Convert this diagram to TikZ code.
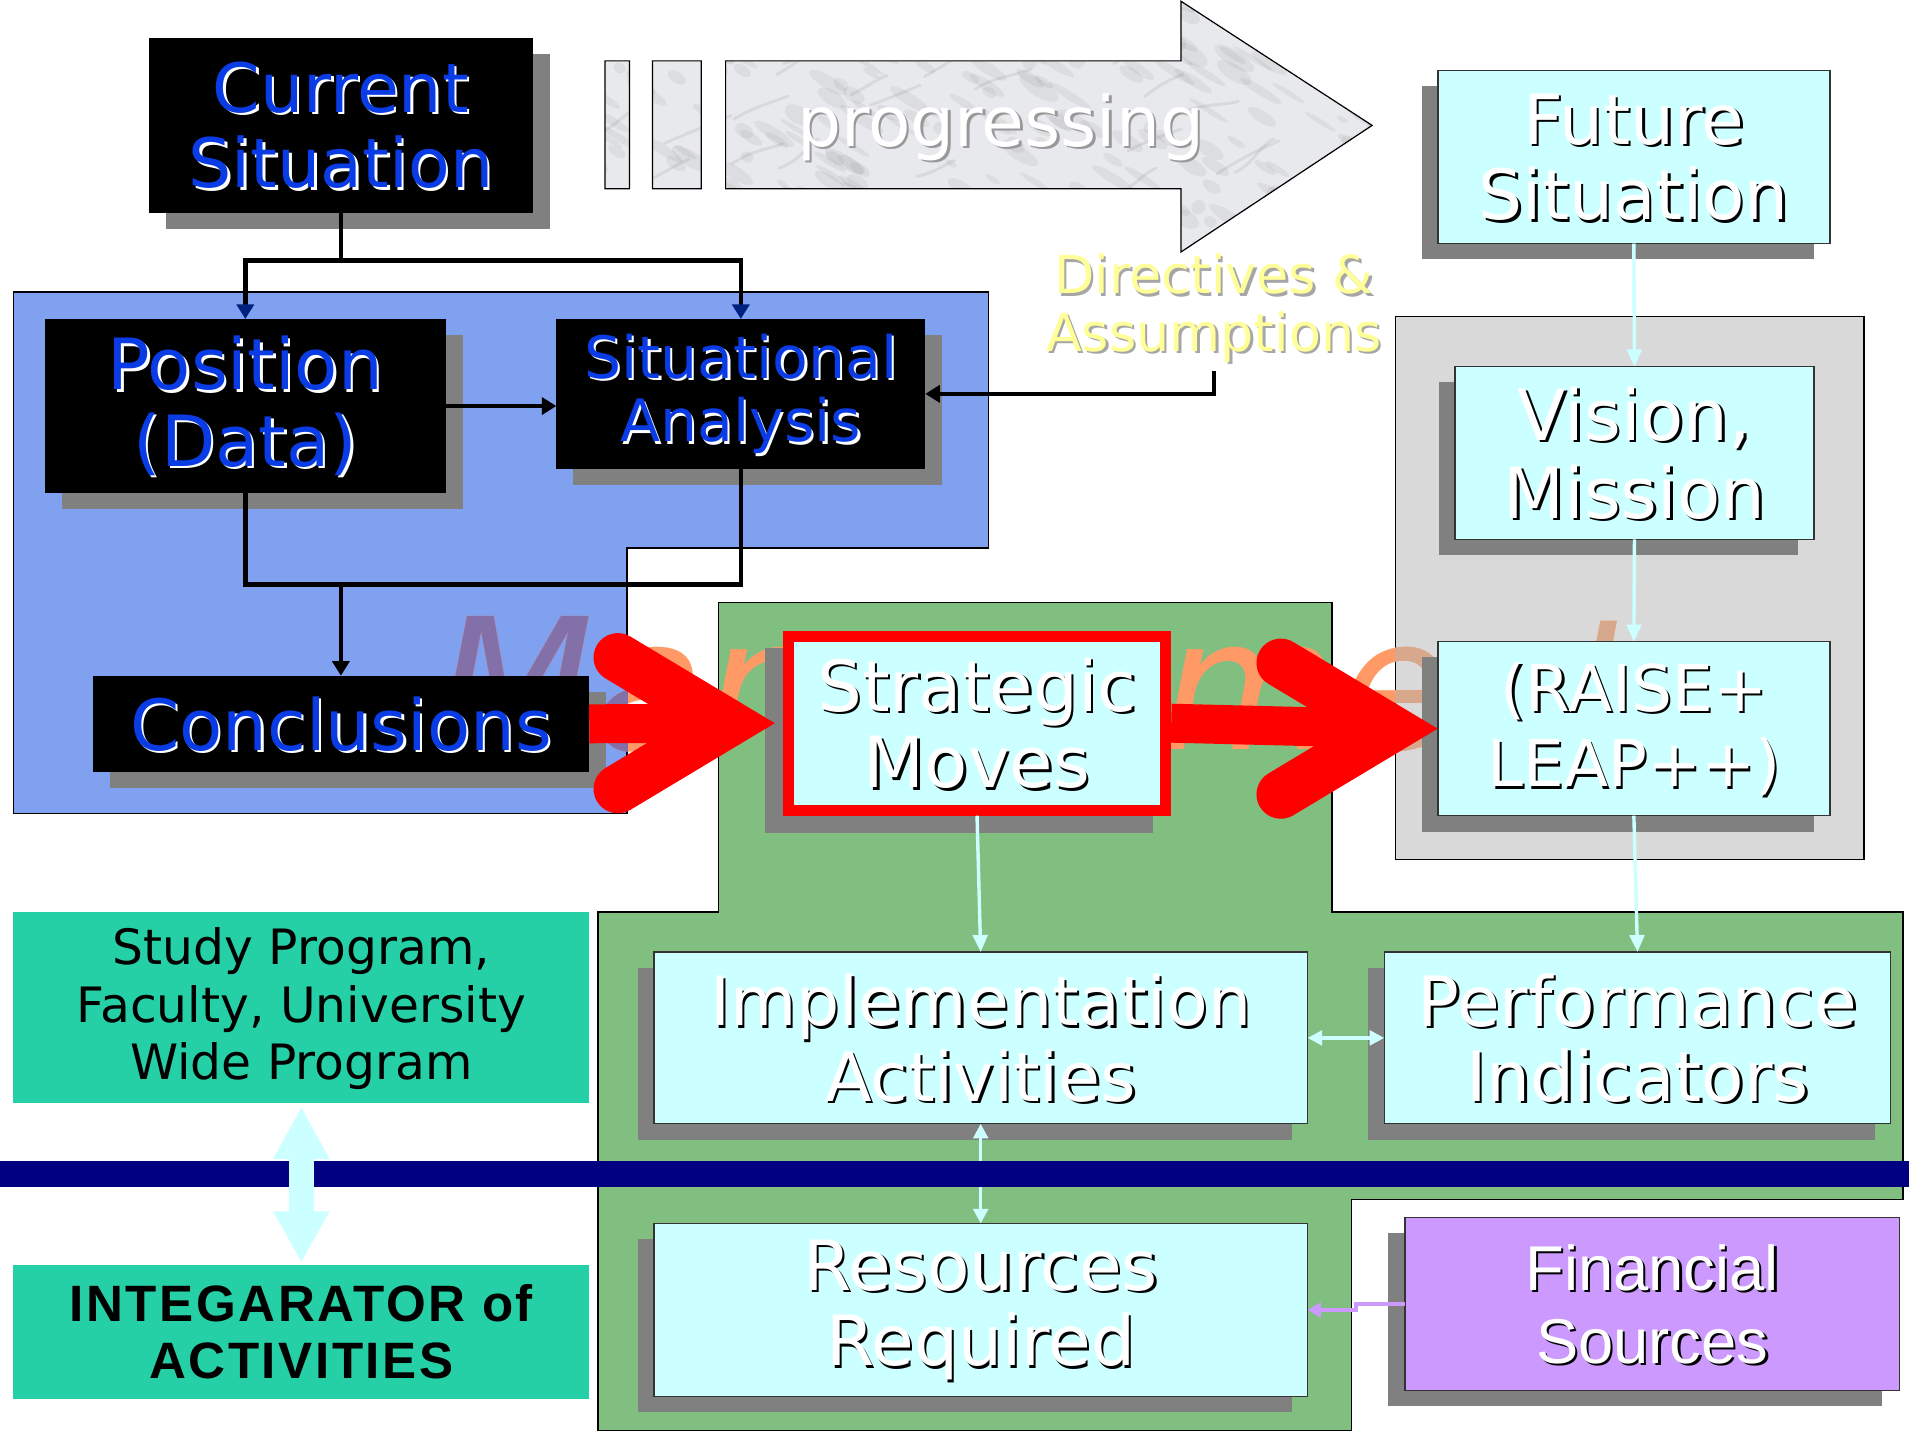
\documentclass[tikz,border=0pt]{standalone}
\usepackage{fontspec}
\setmainfont{DejaVu Sans}
\newfontfamily\arialf{Liberation Sans}
\newfontfamily\integf[LetterSpace=5]{Liberation Sans Bold}
\newfontfamily\wmf{DejaVu Sans Oblique}
\usetikzlibrary{arrows.meta,shadows}
\definecolor{blueReg}{RGB}{128,160,240}
\definecolor{greenReg}{RGB}{128,191,128}
\definecolor{grayReg}{RGB}{217,217,217}
\definecolor{cyanBox}{RGB}{204,255,255}
\definecolor{shGray}{RGB}{128,128,128}
\definecolor{tealBox}{RGB}{38,208,166}
\definecolor{purpBox}{RGB}{204,153,255}
\definecolor{navyBar}{RGB}{0,0,128}
\definecolor{txtBlue}{RGB}{10,60,230}
\definecolor{yelTxt}{RGB}{255,255,153}
\definecolor{wmOrange}{RGB}{255,153,102}
\definecolor{wmPurple}{RGB}{132,112,168}
\definecolor{wmTan}{RGB}{215,168,140}
\definecolor{marble}{RGB}{232,233,236}
\definecolor{arrNavy}{RGB}{0,32,128}
\newcommand{\fz}[2]{\fontsize{#1pt}{#2pt}\selectfont}
\newcommand{\bx}[6]{\node[#2, minimum width={(#5-#3)*0.5pt}, minimum height={(#6-#4)*0.5pt}] (#1) at ({(#3+#5)/2},{(#4+#6)/2}) {};}
\newcommand{\lbl}[6]{%
 \node[lbltxt,font={#5},text=#3,xshift=1pt,yshift=-1pt] (#1-sh) at ([shift={#2}]#1.center) {#6};%
 \node[lbltxt,font={#5},text=#4] (#1-tx) at ([shift={#2}]#1.center) {#6};}
\tikzset{
 bxbase/.style={rectangle, inner sep=0pt, outer sep=0pt},
 blackbox/.style={bxbase, fill=black, drop shadow={opacity=1,fill=shGray,shadow xshift=7pt,shadow yshift=-6.5pt}},
 cyanbox/.style={bxbase, fill=cyanBox, draw=black!80, line width=0.6pt, drop shadow={opacity=1,fill=shGray,shadow xshift=-6.5pt,shadow yshift=-6.5pt}},
 redbox/.style={bxbase, fill=red, drop shadow={opacity=1,fill=shGray,shadow xshift=-7.5pt,shadow yshift=-7pt}},
 innerbox/.style={bxbase, fill=cyanBox},
 purpbox/.style={bxbase, fill=purpBox, draw=black!80, line width=0.6pt, drop shadow={opacity=1,fill=shGray,shadow xshift=-7pt,shadow yshift=-6.5pt}},
 tealbox/.style={bxbase, fill=tealBox},
 lbltxt/.style={align=center, inner sep=0pt},
 region/.style={draw=black, line width=0.6pt},
 bconn/.style={draw=black, line width=1.9pt},
 btip/.style={-{Triangle[length=6pt,width=7pt]}},
 ntip/.style={-{Triangle[length=6pt,width=7pt,color=arrNavy]}},
 cyconn/.style={draw=cyanBox, line width=1.4pt},
 cytip/.style={-{Triangle[length=7pt,width=6pt]}},
 cydtip/.style={{Triangle[length=6pt,width=6pt]}-{Triangle[length=6pt,width=6pt]}},
 redarm/.style={draw=red, line width=20pt, line cap=round, line join=miter},
 redshaft/.style={draw=red, line width=16pt},
}
\begin{document}
\begin{tikzpicture}[x=0.5pt,y=-0.5pt]
\useasboundingbox (0,0) rectangle (1568,1178.6);
\fill[white] (0,0) rectangle (1568,1178.6);

% marble "progressing" arrow
\fill[marble] (497,50) rectangle (517,155) (536,50) rectangle (576,155)
 (596,50) -- (970,50) -- (970,1) -- (1127,103) -- (970,207) -- (970,155) -- (596,155) -- cycle;
\begin{scope}
\clip (497,50) rectangle (517,155) (536,50) rectangle (576,155)
 (596,50) -- (970,50) -- (970,1) -- (1127,103) -- (970,207) -- (970,155) -- (596,155) -- cycle;
\pgfmathsetseed{11}
\foreach \i in {1,...,260}{
  \pgfmathsetmacro{\xa}{480+rnd*660}
  \pgfmathsetmacro{\ya}{rnd*215}
  \pgfmathsetmacro{\ra}{5+rnd*16}
  \pgfmathsetmacro{\rb}{2+rnd*5}
  \fill[black!70, opacity=0.07, rotate around={-32:(\xa,\ya)}] (\xa,\ya) ellipse ({\ra*0.5pt} and {\rb*0.5pt});
}
\foreach \i in {1,...,45}{
  \pgfmathsetmacro{\xa}{480+rnd*660}
  \pgfmathsetmacro{\ya}{rnd*215}
  \draw[black!60, opacity=0.12, line width=1.2pt, line cap=round] (\xa,\ya) .. controls ++({10+rnd*10},{-4-rnd*8}) and ++({-10},{4}) .. ++({25+rnd*30},{-12-rnd*16});
}
\end{scope}
\draw[black, line width=0.5pt] (497,50) rectangle (517,155) (536,50) rectangle (576,155)
 (596,50) -- (970,50) -- (970,1) -- (1127,103) -- (970,207) -- (970,155) -- (596,155) -- cycle;
\node[anchor=base, inner sep=0pt, font={\fz{28.5}{30}}, text=black!40] (progsh) at (824,122) {progressing};
\node[anchor=base, inner sep=0pt, font={\fz{28.5}{30}}, text=white] (prog) at (822,120) {progressing};

% regions
\filldraw[region, fill=blueReg] (11,240) -- (812,240) -- (812,450) -- (515,450) -- (515,668) -- (11,668) -- cycle;
\filldraw[region, fill=greenReg] (590,495) -- (1094,495) -- (1094,749) -- (1563,749) -- (1563,985) -- (1110,985) -- (1110,1175) -- (491,1175) -- (491,749) -- (590,749) -- cycle;
\filldraw[region, fill=grayReg] (1146,260) rectangle (1531,706);

% watermark
\node[anchor=base west, inner sep=0pt, font={\wmf\fz{75}{80}}, text=wmOrange] (wm) at (358,616) {Management};
\begin{scope}
\clip (11,240) -- (812,240) -- (812,450) -- (515,450) -- (515,668) -- (11,668) -- cycle;
\node[anchor=base west, inner sep=0pt, font={\wmf\fz{75}{80}}, text=wmPurple] (wmb) at (358,616) {Management};
\end{scope}
\begin{scope}
\clip (1146,260) rectangle (1531,706);
\node[anchor=base west, inner sep=0pt, font={\wmf\fz{75}{80}}, text=wmTan] (wmg) at (358,616) {Management};
\end{scope}

% boxes
\bx{cur}{blackbox}{122}{31}{438}{175}
\bx{pos}{blackbox}{37}{262}{366}{405}
\bx{sit}{blackbox}{457}{262}{760}{385}
\bx{conc}{blackbox}{76}{555}{484}{634}
\bx{fut}{cyanbox}{1181}{58}{1503}{200}
\bx{vis}{cyanbox}{1195}{301}{1490}{443}
\bx{rai}{cyanbox}{1181}{527}{1503}{670}
\bx{strat}{redbox}{643}{518}{962}{670}
\bx{stratin}{innerbox}{652}{527}{953}{661}
\bx{impl}{cyanbox}{537}{782}{1074}{923}
\bx{perf}{cyanbox}{1137}{782}{1553}{923}
\bx{res}{cyanbox}{537}{1005}{1074}{1147}
\bx{fin}{purpbox}{1154}{1000}{1560}{1142}
\bx{study}{tealbox}{11}{749}{484}{906}
\bx{integ}{tealbox}{11}{1039}{484}{1149}

% labels
\lbl{cur}{(0,0)}{white}{txtBlue}{\fz{28}{31}}{Current\\Situation}
\lbl{pos}{(0,0)}{white}{txtBlue}{\fz{29}{31.5}}{Position\\(Data)}
\lbl{sit}{(0,0)}{white}{txtBlue}{\fz{24}{26}}{Situational\\Analysis}
\lbl{conc}{(0,0)}{white}{txtBlue}{\fz{29}{31}}{Conclusions}
\lbl{fut}{(0,0)}{black}{white}{\fz{28.5}{31}}{Future\\Situation}
\lbl{vis}{(0,0)}{black}{white}{\fz{29}{32}}{Vision,\\Mission}
\lbl{rai}{(0,0)}{black}{white}{\fz{26.5}{31}}{(RAISE+\\LEAP++)}
\lbl{stratin}{(0,0)}{black}{white}{\fz{29}{31.5}}{Strategic\\Moves}
\lbl{impl}{(0,0)}{black}{white}{\fz{28}{31}}{Implementation\\Activities}
\lbl{perf}{(0,0)}{black}{white}{\fz{28.5}{31}}{Performance\\Indicators}
\lbl{res}{(0,0)}{black}{white}{\fz{28.5}{31}}{Resources\\Required}
\lbl{fin}{(0,0)}{black}{white}{\arialf\fz{26}{30}}{Financial\\Sources}
\node[lbltxt, font={\fz{20}{23.5}}, text=black] (study-tx) at ([yshift=-0.5pt]study.center) {Study Program,\\Faculty, University\\Wide Program};
\node[lbltxt, font={\integf\fz{21}{23.5}}, text=black] (integ-tx) at (integ.center) {INTEGARATOR of\\ACTIVITIES};
\node[lbltxt, font={\fz{21.5}{23.5}}, text=black!35, xshift=1pt, yshift=-1pt] (dir-sh) at (997,253) {Directives \&\\Assumptions};
\node[lbltxt, font={\fz{21.5}{23.5}}, text=yelTxt] (dir) at (997,253) {Directives \&\\Assumptions};

% black connectors
\coordinate (j1) at ([yshift=-19.5pt]cur.south);
\draw[bconn, ntip] (cur.south) -- (j1) -| (pos.north);
\draw[bconn, ntip] (j1) -| (sit.north);
\draw[bconn, btip] (pos.east) -- (pos.east -| sit.west);
\coordinate (lvl) at (0,480);
\draw[bconn] (pos.south) -- (pos.south |- lvl) -- (sit.south |- lvl) -- (sit.south);
\draw[bconn, btip] (conc.north |- lvl) -- (conc.north);
\coordinate (dirend) at (997,305);
\draw[bconn, btip] (dirend) |- (sit.east);

% light cyan connectors
\draw[cyconn, cytip] (fut.south) -- (vis.north);
\draw[cyconn, cytip] (vis.south) -- (rai.north);
\draw[cyconn, cytip] (rai.south) -- (perf.north);
\draw[cyconn, cytip] (strat.south) -- (impl.north);
\draw[cyconn, cydtip] (impl.east) -- (perf.west);
\draw[cyconn, cydtip] (impl.south) -- (res.north);
\draw[draw=purpBox, line width=1.5pt, -{Triangle[length=5.5pt,width=6pt]}] (fin.west) -- ++(-40,0) |- (res.east);

% red arrows
\draw[redshaft] (conc.east) -- ([xshift=-22.75pt]strat.west);
\draw[redarm] ([shift={(-135.5,-54)}]strat.west) -- ([shift={(-45.5,0)}]strat.west) -- ([shift={(-135.5,54)}]strat.west);
\draw[redshaft] (strat.east) -- ([xshift=-19.5pt]rai.west);
\draw[redarm] ([shift={(-129,-54)}]rai.west) -- ([shift={(-39,0)}]rai.west) -- ([shift={(-129,54)}]rai.west);

% navy bar
\fill[navyBar] (0,954) rectangle (1568,975);

% big double arrow
\draw[draw=cyanBox, line width=10.5pt, {Triangle[length=21.5pt,width=21.5pt]}-{Triangle[length=21pt,width=21.5pt]}] ([yshift=-1.5pt]study.south) -- ([yshift=1pt]integ.north);
\end{tikzpicture}
\end{document}
